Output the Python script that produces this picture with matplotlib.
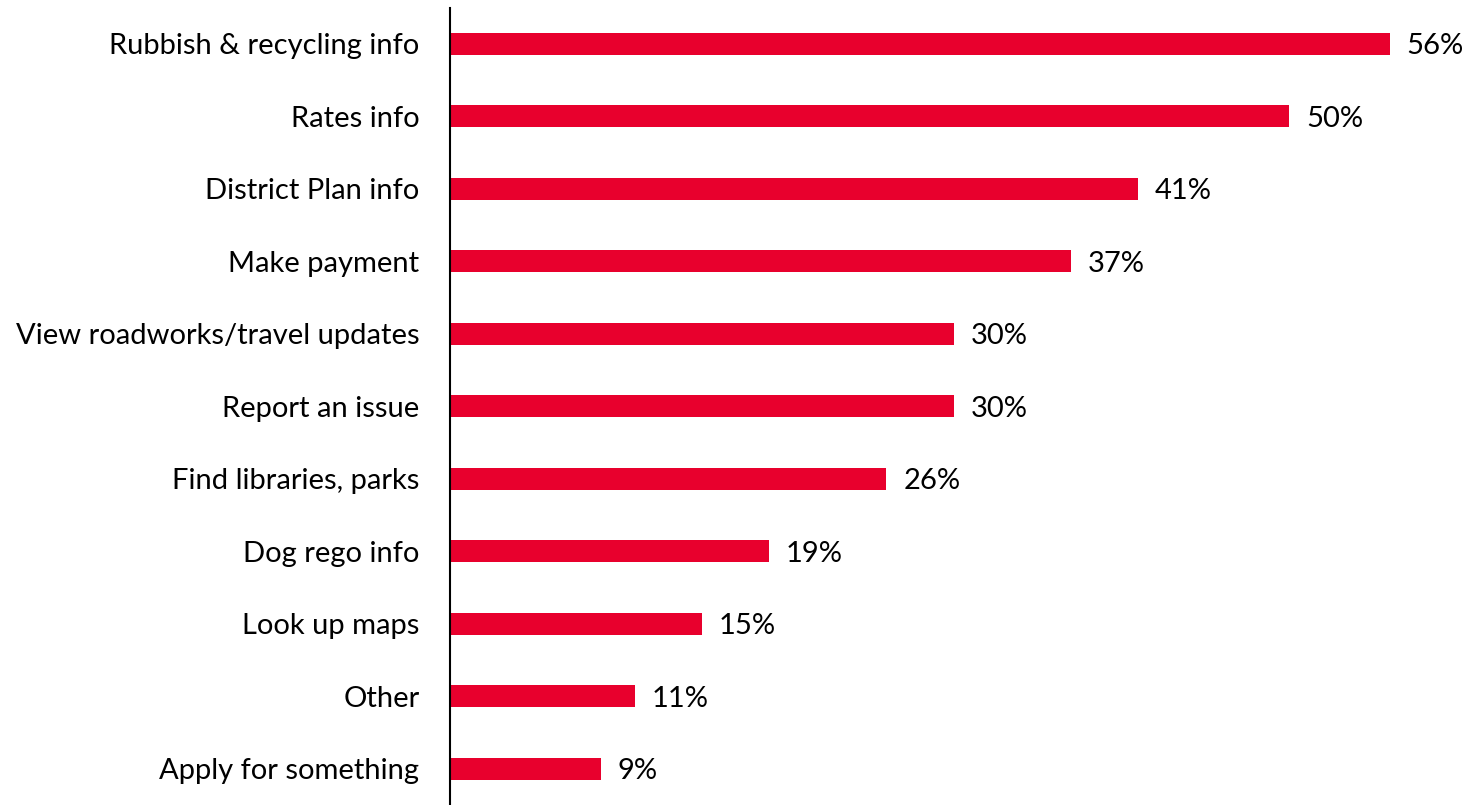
import matplotlib
matplotlib.use("Agg")
import matplotlib.pyplot as plt

categories = [
    "Rubbish & recycling info",
    "Rates info",
    "District Plan info",
    "Make payment",
    "View roadworks/travel updates",
    "Report an issue",
    "Find libraries, parks",
    "Dog rego info",
    "Look up maps",
    "Other",
    "Apply for something",
]
values = [56, 50, 41, 37, 30, 30, 26, 19, 15, 11, 9]

plt.rcParams["font.family"] = ["Lato", "DejaVu Sans"]

fig = plt.figure(figsize=(14.67, 8.05), dpi=100)
ax = fig.add_axes([450 / 1467, 0.0, 1007 / 1467, 1 - 7.6 / 805])

pos = list(range(len(categories)))
ax.barh(pos, values, height=0.30, color="#E8002D")
for y, v in zip(pos, values):
    ax.text(v + 1.0, y, f"{v}%", va="center_baseline", ha="left",
            fontsize=21, color="black")

ax.set_ylim(len(categories) - 0.5, -0.5)
ax.set_xlim(0, 60)
ax.set_yticks(pos)
ax.set_yticklabels(categories, fontsize=21, va="center_baseline")
ax.tick_params(axis="y", length=0, pad=22)
ax.set_xticks([])
for side in ("top", "right", "bottom"):
    ax.spines[side].set_visible(False)
ax.spines["left"].set_linewidth(1.5)

fig.savefig("out.png", dpi=100)
